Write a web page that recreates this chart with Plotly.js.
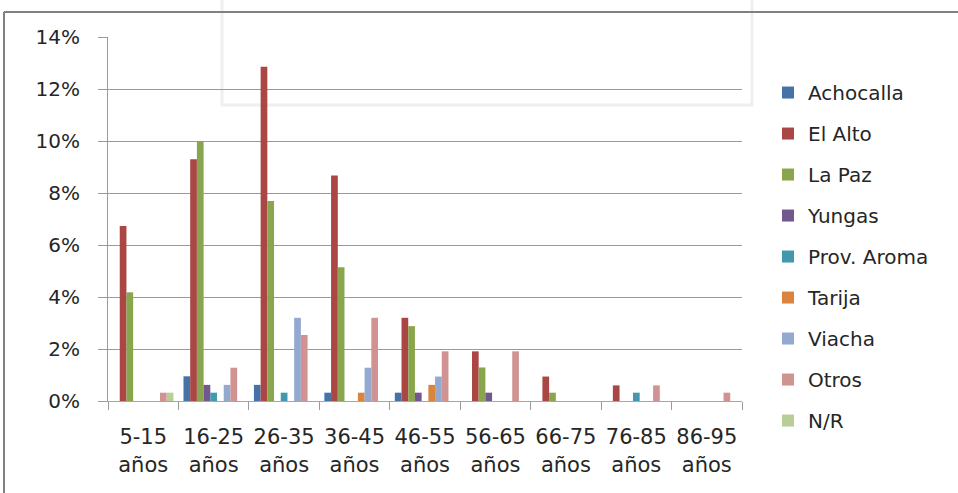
<!DOCTYPE html>
<html>
<head>
<meta charset="utf-8">
<script src="https://cdn.plot.ly/plotly-3.0.1.min.js"></script>
<style>
  html, body { margin: 0; padding: 0; background: #ffffff; }
  #chart { width: 958px; height: 493px; }
</style>
</head>
<body>
<div id="chart"></div>
<script>
// Age groups (x axis)
const categories = ['5-15<br>años', '16-25<br>años', '26-35<br>años', '36-45<br>años', '46-55<br>años',
                    '56-65<br>años', '66-75<br>años', '76-85<br>años', '86-95<br>años'];

// Share of respondents by place of origin, in percent
const achocalla = [0, 0.95, 0.62, 0.32, 0.32, 0, 0, 0, 0];
const elAlto    = [6.73, 9.30, 12.86, 8.67, 3.20, 1.91, 0.94, 0.60, 0];
const laPaz     = [4.18, 10.00, 7.69, 5.14, 2.88, 1.29, 0.32, 0, 0];
const yungas    = [0, 0.62, 0, 0, 0.32, 0.32, 0, 0, 0];
const provAroma = [0, 0.32, 0.32, 0, 0, 0, 0, 0.32, 0];
const tarija    = [0, 0, 0, 0.32, 0.62, 0, 0, 0, 0];
const viacha    = [0, 0.62, 3.20, 1.28, 0.94, 0, 0, 0, 0];
const otros     = [0.32, 1.28, 2.54, 3.20, 1.91, 1.91, 0, 0.60, 0.32];
const noResp    = [0.32, 0, 0, 0, 0, 0, 0, 0, 0];

const seriesNames  = ['Achocalla', 'El Alto', 'La Paz', 'Yungas', 'Prov. Aroma', 'Tarija', 'Viacha', 'Otros', 'N/R'];
const seriesValues = [achocalla, elAlto, laPaz, yungas, provAroma, tarija, viacha, otros, noResp];
const seriesColors = ['#4572A7', '#AA4643', '#89A54E', '#71588F', '#4198AF', '#DB843D', '#93A9CF', '#D19392', '#B9CD96'];

const FONT = 'DejaVu Sans, sans-serif';

const traces = seriesNames.map((name, i) => ({
  type: 'bar',
  name: name,
  x: categories,
  y: seriesValues[i],
  legendgroup: 'g' + i,
  marker: { color: seriesColors[i], line: { width: 0 } },
  hovertemplate: '%{y:.2f}%<extra>' + name + '</extra>'
}));

const layout = {
  width: 958,
  height: 493,
  margin: { l: 108, r: 216, t: 37, b: 92, pad: 0 },
  paper_bgcolor: '#ffffff',
  plot_bgcolor: 'rgba(0,0,0,0)',
  barmode: 'group',
  bargap: 0.143,
  bargroupgap: 0,
  font: { family: FONT, color: '#262626' },
  xaxis: {
    type: 'category',
    tickson: 'boundaries',
    ticks: 'outside',
    ticklen: 8,
    tickcolor: '#9a9a9a',
    tickwidth: 1,
    ticklabelstandoff: 17,
    showline: true,
    linecolor: '#a6a6a6',
    linewidth: 1,
    showgrid: false,
    tickfont: { family: FONT, size: 21, color: '#262626' },
    automargin: false
  },
  yaxis: {
    range: [0, 14],
    dtick: 2,
    tick0: 0,
    ticksuffix: '%',
    ticks: 'outside',
    ticklen: 9,
    tickcolor: '#9a9a9a',
    tickwidth: 1,
    ticklabelstandoff: 14,
    showline: true,
    linecolor: '#9a9a9a',
    linewidth: 1,
    showgrid: true,
    gridcolor: '#9a9a9a',
    gridwidth: 1,
    zeroline: false,
    tickfont: { family: FONT, size: 20, color: '#262626' },
    automargin: false
  },
  legend: {
    x: 1.041,
    xanchor: 'left',
    y: 0.901,
    yanchor: 'top',
    tracegroupgap: 12,
    font: { family: FONT, size: 20, color: '#262626' },
    bgcolor: 'rgba(0,0,0,0)',
    itemclick: false,
    itemdoubleclick: false
  },
  shapes: [
    // faint frame of the background emblem
    { type: 'rect', xref: 'paper', yref: 'paper', layer: 'below',
      x0: (222 - 108) / 634, x1: (752 - 108) / 634,
      y0: (401 - 105) / 364, y1: (401 + 10) / 364,
      line: { color: '#efefef', width: 3 }, fillcolor: 'rgba(0,0,0,0)' },
    // outer frame: top edge
    { type: 'line', xref: 'paper', yref: 'paper',
      x0: (4 - 108) / 634, x1: (958 - 108) / 634,
      y0: (401 - 12) / 364, y1: (401 - 12) / 364,
      line: { color: '#808080', width: 2 } },
    // outer frame: left edge
    { type: 'line', xref: 'paper', yref: 'paper',
      x0: (4 - 108) / 634, x1: (4 - 108) / 634,
      y0: (401 - 12) / 364, y1: (401 - 493) / 364,
      line: { color: '#808080', width: 2 } }
  ]
};

Plotly.newPlot('chart', traces, layout, { displayModeBar: false, staticPlot: true });
</script>
</body>
</html>
